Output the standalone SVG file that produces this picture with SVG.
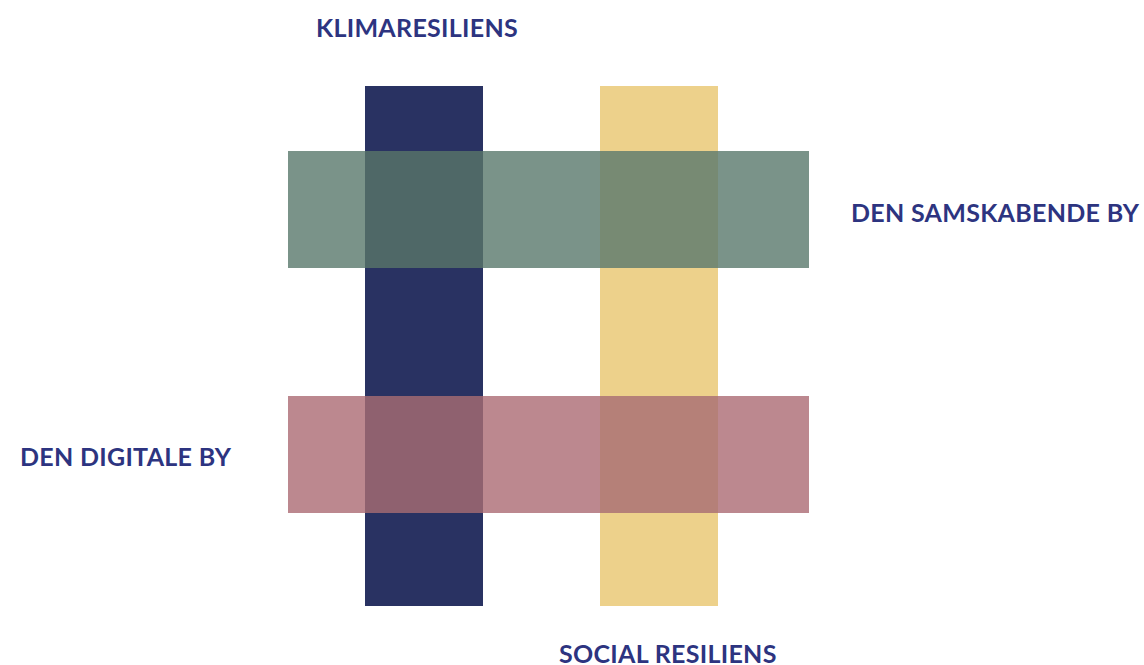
<svg xmlns="http://www.w3.org/2000/svg" width="1144" height="665" viewBox="0 0 1144 665">
<style>
.lbl{font-family:Lato,"Noto Sans","Liberation Sans",sans-serif;font-weight:700;font-size:25px;letter-spacing:0.3px;fill:#2d3480}
</style>
<rect width="1144" height="665" fill="#ffffff"/>
<g id="klimaresiliens">
<rect x="365" y="86" width="118" height="520" fill="#293262"/>
<text class="lbl" x="316" y="37">KLIMARESILIENS</text>
</g>
<g id="social-resiliens">
<rect x="600" y="86" width="118" height="520" fill="#edd18b"/>
<text class="lbl" x="559" y="663">SOCIAL RESILIENS</text>
</g>
<g id="den-samskabende-by">
<rect x="288" y="151" width="521" height="117" fill="#7a9389"/>
<rect x="365" y="151" width="118" height="117" fill="#4f6867"/>
<rect x="600" y="151" width="118" height="117" fill="#778a73"/>
<text class="lbl" x="851" y="222">DEN SAMSKABENDE BY</text>
</g>
<g id="den-digitale-by">
<rect x="288" y="396" width="521" height="117" fill="#bc888f"/>
<rect x="365" y="396" width="118" height="117" fill="#8f616f"/>
<rect x="600" y="396" width="118" height="117" fill="#b58078"/>
<text class="lbl" x="20" y="466">DEN DIGITALE BY</text>
</g>
<g id="connectors"></g>
</svg>
